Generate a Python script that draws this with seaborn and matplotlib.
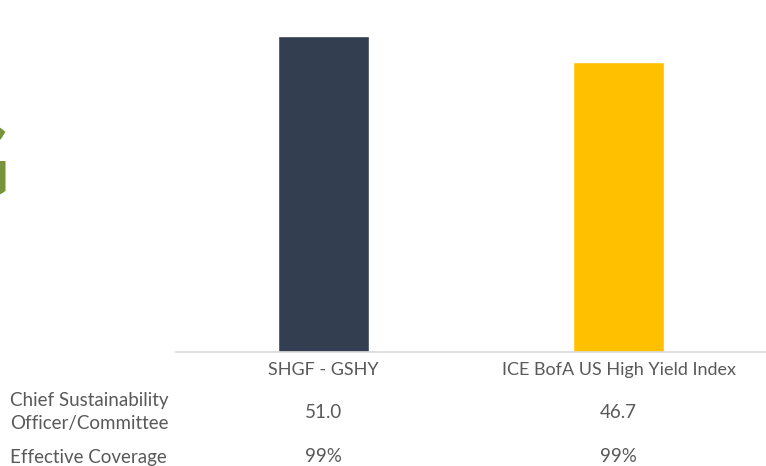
import pandas as pd
import seaborn as sns
import matplotlib.pyplot as plt
import matplotlib.transforms as mtransforms

# data
categories = ["SHGF - GSHY", "ICE BofA US High Yield Index"]
scores = [51.0, 46.7]
colors = ["#333F50", "#FFC000"]
row_labels = ["Chief Sustainability\nOfficer/Committee", "Effective Coverage"]
score_labels = ["51.0", "46.7"]
coverage_labels = ["99%", "99%"]

df = pd.DataFrame({"fund": categories, "score": scores})

sns.set_style("white")
plt.rcParams["font.family"] = ["Lato", "DejaVu Sans"]

W, H = 766, 466
fig = plt.figure(figsize=(W / 100, H / 100), dpi=100)
ax = fig.add_axes([176 / W, 1 - 352 / H, 1 - 176 / W, (352 - 11) / H])

sns.barplot(
    data=df, x="fund", y="score", hue="fund", palette=colors,
    width=0.31, legend=False, ax=ax, saturation=1,
)
ax.set_xlim(-0.5, 1.5)
ax.set_ylim(0, 55)
ax.set_xlabel("")
ax.set_ylabel("")
ax.set_yticks([])
for side in ["top", "right", "left"]:
    ax.spines[side].set_visible(False)
ax.spines["bottom"].set_color("#D9D9D9")
ax.spines["bottom"].set_linewidth(1.2)
ax.tick_params(axis="x", length=0, pad=7, labelsize=13, labelcolor="#595959")

# table under the chart
fs = 13.5
trans = mtransforms.blended_transform_factory(ax.transData, fig.transFigure)
fig.text(10 / W, 1 - 412 / H, row_labels[0], fontsize=fs, color="#595959",
         va="center", ha="left", multialignment="left", linespacing=1.4)
fig.text(10 / W, 1 - 457 / H, row_labels[1], fontsize=fs, color="#595959",
         va="center", ha="left")
for i in range(len(categories)):
    ax.text(i, 1 - 412 / H, score_labels[i], transform=trans, fontsize=fs,
            color="#595959", ha="center", va="center")
    ax.text(i, 1 - 457 / H, coverage_labels[i], transform=trans, fontsize=fs,
            color="#595959", ha="center", va="center")

# cropped logo letter at the left edge
fig.text(10 / W, 1 - 168 / H, "G", fontsize=74, fontweight="bold",
         color="#77933C", ha="right", va="center")

fig.savefig("out.png", dpi=100)
